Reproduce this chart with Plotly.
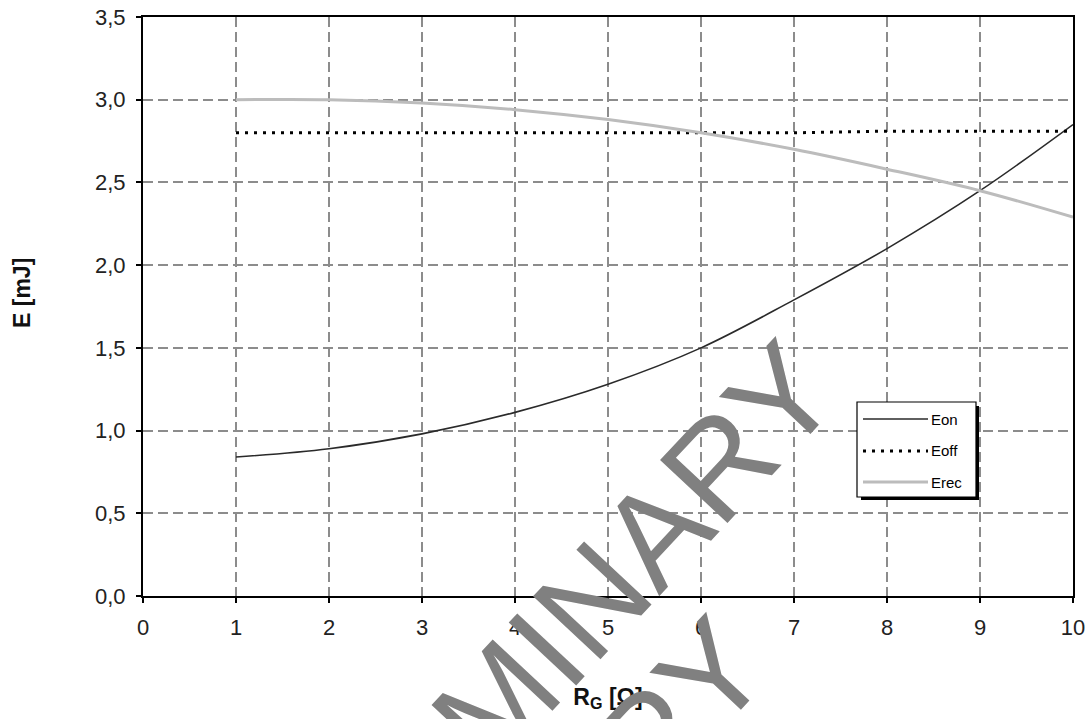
import plotly.graph_objects as go

# ---- data ----
rg = [1, 2, 3, 4, 5, 6, 7, 8, 9, 10]
e_on = [0.84, 0.89, 0.98, 1.11, 1.28, 1.50, 1.79, 2.10, 2.45, 2.85]
e_off = [2.80, 2.80, 2.80, 2.80, 2.80, 2.80, 2.80, 2.81, 2.81, 2.81]
e_rec = [3.00, 3.00, 2.98, 2.94, 2.88, 2.80, 2.70, 2.58, 2.45, 2.29]

x_tick_vals = [0, 1, 2, 3, 4, 5, 6, 7, 8, 9, 10]
x_tick_text = ["0", "1", "2", "3", "4", "5", "6", "7", "8", "9", "10"]
y_tick_vals = [0.0, 0.5, 1.0, 1.5, 2.0, 2.5, 3.0, 3.5]
y_tick_text = ["0,0", "0,5", "1,0", "1,5", "2,0", "2,5", "3,0", "3,5"]

series_names = ["Eon", "Eoff", "Erec"]

# ---- geometry (page pixels) ----
W, H = 1091, 719
PL, PR, PT, PB = 143, 1073, 17, 596
FONT = "Liberation Sans, Arial, sans-serif"


def px(x):
    return (x - PL) / (PR - PL)


def py(y):
    return (PB - y) / (PB - PT)


styles = {
    "Eon": dict(color="#2a2a2a", width=1.6, dash="solid"),
    "Eoff": dict(color="#000000", width=3, dash="3px,6px"),
    "Erec": dict(color="#bcbcbc", width=3, dash="solid"),
}

fig = go.Figure()
fig.add_trace(go.Scatter(x=rg, y=e_on, mode="lines", name="Eon",
                         line=dict(color=styles["Eon"]["color"], width=styles["Eon"]["width"], shape="spline"),
                         showlegend=False))
fig.add_trace(go.Scatter(x=rg, y=e_off, mode="lines", name="Eoff",
                         line=dict(color=styles["Eoff"]["color"], width=styles["Eoff"]["width"], dash=styles["Eoff"]["dash"]),
                         showlegend=False))
fig.add_trace(go.Scatter(x=rg, y=e_rec, mode="lines", name="Erec",
                         line=dict(color=styles["Erec"]["color"], width=styles["Erec"]["width"], shape="spline"),
                         showlegend=False))

grid = dict(showgrid=True, gridcolor="#8c8c8c", gridwidth=1.5, griddash="10px,5px",
            showline=True, linecolor="#000000", linewidth=2, mirror=True,
            ticks="outside", ticklen=5, tickwidth=1.5, tickcolor="#000000",
            zeroline=False, automargin=False,
            tickfont=dict(family=FONT, size=22, color="#222222"))

fig.update_layout(
    width=W, height=H,
    margin=dict(l=PL, r=W - PR, t=PT, b=H - PB),
    paper_bgcolor="white", plot_bgcolor="white",
    xaxis=dict(range=[0, 10], tickmode="array", tickvals=x_tick_vals, ticktext=x_tick_text,
               ticklabelstandoff=6,
               title=dict(text="<b>R<sub>G</sub> [Ω]</b>", font=dict(family=FONT, size=23, color="#111111"),
                          standoff=49),
               **grid),
    yaxis=dict(range=[0, 3.5], tickmode="array", tickvals=y_tick_vals, ticktext=y_tick_text,
               ticklabelstandoff=6,
               **grid),
    showlegend=False,
)

annotations = []
# y-axis title (placed as annotation to match its off-centre position)
annotations.append(dict(text="<b>E [mJ]</b>", xref="paper", yref="paper", x=px(22), y=py(293),
                        xanchor="center", yanchor="middle", showarrow=False, textangle=-90,
                        font=dict(family=FONT, size=23, color="#111111")))

# ---- legend box (drawn manually to match style) ----
LX0, LY0, LX1, LY1 = 857, 402, 976, 497
shapes = [
    dict(type="rect", xref="paper", yref="paper", x0=px(LX0 + 4), x1=px(LX1 + 3), y0=py(LY1 + 3), y1=py(LY0 + 4),
         fillcolor="#000000", line=dict(width=0), layer="above"),
    dict(type="rect", xref="paper", yref="paper", x0=px(LX0), x1=px(LX1), y0=py(LY1), y1=py(LY0),
         fillcolor="#ffffff", line=dict(color="#000000", width=1.2), layer="above"),
]
rows_y = [419, 451, 482]
for name, yy in zip(series_names, rows_y):
    st = styles[name]
    shapes.append(dict(type="line", xref="paper", yref="paper", x0=px(863), x1=px(928), y0=py(yy), y1=py(yy),
                       line=dict(color=st["color"], width=st["width"], dash=st["dash"]), layer="above"))
    annotations.append(dict(text=name, xref="paper", yref="paper", x=px(929), y=py(yy), xanchor="left",
                            yanchor="middle", showarrow=False, font=dict(family=FONT, size=15, color="#000000")))

# ---- watermark ----
annotations.append(dict(text="PRELIMINARY", xref="paper", yref="paper", x=px(502), y=py(696),
                        xanchor="center", yanchor="middle", showarrow=False, textangle=-47,
                        font=dict(family=FONT, size=134, color="#808080")))
annotations.append(dict(text="COPY", xref="paper", yref="paper", x=px(612), y=py(779),
                        xanchor="center", yanchor="middle", showarrow=False, textangle=-47,
                        font=dict(family=FONT, size=134, color="#808080")))

fig.update_layout(shapes=shapes, annotations=annotations)

fig.write_html("out.html", config={"displayModeBar": False},
               post_script="document.body.style.margin='0px';")
